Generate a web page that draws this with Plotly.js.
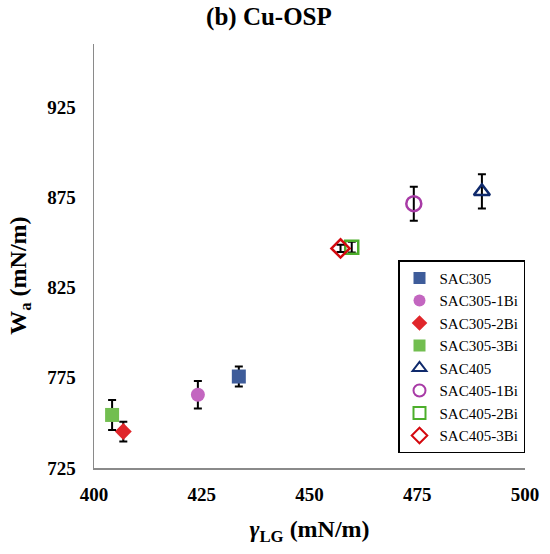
<!DOCTYPE html>
<html>
<head>
<meta charset="utf-8">
<script src="https://cdn.plot.ly/plotly-3.0.1.min.js"></script>
<style>html,body{margin:0;padding:0;background:#fff}#chart{width:550px;height:554px}</style>
</head>
<body>
<div id="chart"></div>
<script>
// Data
const seriesNames = ["SAC305","SAC305-1Bi","SAC305-2Bi","SAC305-3Bi","SAC405","SAC405-1Bi","SAC405-2Bi","SAC405-3Bi"];
const gammaLG = [433.6, 424.1, 406.8, 404.2, 490.0, 474.2, 459.8, 457.2];
const workAdhesion = [775.7, 765.6, 745.2, 754.4, 878.3, 871.5, 847.4, 846.7];
const errorWa = [5.5, 7.6, 5.5, 8.3, 9.5, 9.4, 3.0, 2.0];

const xTicks = [400, 425, 450, 475, 500];
const yTicks = [725, 775, 825, 875, 925];

const markerStyles = [
  {symbol:"square", size:14, color:"#3E5C9A", line:{width:0}},
  {symbol:"circle", size:14, color:"#C366C0", line:{width:0}},
  {symbol:"diamond", size:13, color:"#E0262B", line:{width:0}},
  {symbol:"square", size:14, color:"#72BE50", line:{width:0}},
  {symbol:"triangle-up-open", size:14, color:"#0F2A6C", line:{width:2.5, color:"#0F2A6C"}},
  {symbol:"circle-open", size:15, color:"#A83BA6", line:{width:2.5, color:"#A83BA6"}},
  {symbol:"square-open", size:13, color:"#4CAE2B", line:{width:2.5, color:"#4CAE2B"}},
  {symbol:"diamond-open", size:14, color:"#D4090F", line:{width:2.5, color:"#D4090F"}}
];

const serif = "Liberation Serif, Times New Roman, serif";

const traces = seriesNames.map((name, i) => ({
  type: "scatter",
  mode: "markers",
  name: name,
  x: [gammaLG[i]],
  y: [workAdhesion[i]],
  marker: markerStyles[i],
  error_y: {type:"data", array:[errorWa[i]], visible:true, color:"#000", thickness:2, width:4},
  cliponaxis: false
}));

const layout = {
  width: 550,
  height: 554,
  margin: {l:94, r:25, t:44, b:86},
  paper_bgcolor: "#fff",
  plot_bgcolor: "#fff",
  showlegend: true,
  font: {family: serif, color: "#000"},
  title: {
    text: "<b>(b) Cu-OSP</b>",
    font: {family: serif, size: 25, color: "#000"},
    xref: "container", x: 0.489, xanchor: "center",
    yref: "container", y: 0.971, yanchor: "middle"
  },
  xaxis: {
    range: [400, 500],
    tickvals: xTicks,
    ticktext: xTicks.map(v => "<b>" + v + "</b>"),
    showgrid: false,
    zeroline: false,
    showline: true,
    linecolor: "#8a8a8a",
    linewidth: 1.5,
    ticks: "",
    ticklabelstandoff: 9,
    tickfont: {family: serif, size: 19, color: "#000"},
    title: {
      text: "<b><i>γ</i><sub>LG</sub> (mN/m)</b>",
      font: {family: serif, size: 24, color: "#000"},
      standoff: 16
    }
  },
  yaxis: {
    range: [725, 960],
    tickvals: yTicks,
    ticktext: yTicks.map(v => "<b>" + v + "</b>"),
    showgrid: false,
    zeroline: false,
    showline: true,
    linecolor: "#8a8a8a",
    linewidth: 1.5,
    ticks: "",
    ticklabelstandoff: 13,
    tickfont: {family: serif, size: 19, color: "#000"}
  },
  annotations: [{
    text: "<b>W<sub>a</sub> (mN/m)</b>",
    font: {family: serif, size: 24, color: "#000"},
    textangle: -90,
    xref: "paper", yref: "paper",
    x: -0.172, y: 0.453,
    xanchor: "center", yanchor: "middle",
    showarrow: false
  }],
  legend: {
    x: 1, xanchor: "right",
    y: 0.49, yanchor: "top",
    bgcolor: "#fff",
    bordercolor: "#000",
    borderwidth: 1.5,
    font: {family: serif, size: 15, color: "#000"},
    itemwidth: 30,
    itemsizing: "constant",
    tracegroupgap: 0
  }
};

Plotly.newPlot("chart", traces, layout, {displayModeBar: false, staticPlot: true});
</script>
</body>
</html>
